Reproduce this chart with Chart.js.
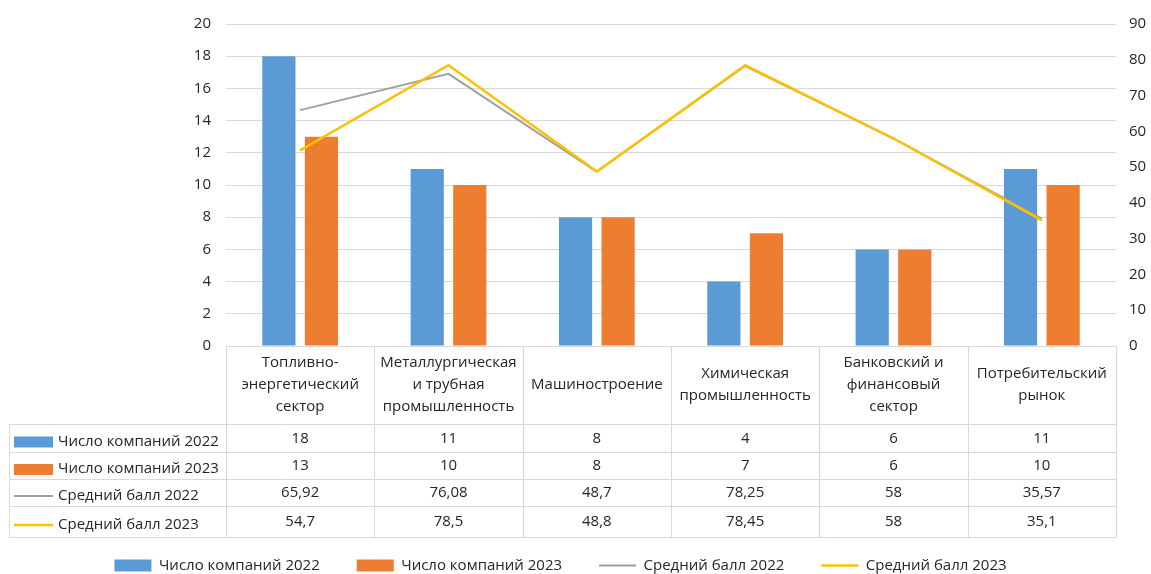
<!DOCTYPE html>
<html>
<head>
<meta charset="utf-8">
<script src="https://cdn.jsdelivr.net/npm/chart.js@4"></script>
<style>
  html, body { margin: 0; padding: 0; background: #fff; }
</style>
</head>
<body>
<canvas id="chart" width="1151" height="574"></canvas>
<script>
// Категории (подписи шапки таблицы)
const categories = [
  ["Топливно-", "энергетический", "сектор"],
  ["Металлургическая", "и трубная", "промышленность"],
  ["Машиностроение"],
  ["Химическая", "промышленность"],
  ["Банковский и", "финансовый", "сектор"],
  ["Потребительский", "рынок"],
];

// Число компаний (левая ось)
const companies2022 = [18, 11, 8, 4, 6, 11];
const companies2023 = [13, 10, 8, 7, 6, 10];

// Средний балл (правая ось)
const score2022 = [65.92, 76.08, 48.7, 78.25, 58, 35.57];
const score2023 = [54.7, 78.5, 48.8, 78.45, 58, 35.1];

const FONT = "'Open Sans', 'Noto Sans', sans-serif";
const TEXT = "#262626";
const GRID = "#d9d9d9";

// Таблица данных под графиком
const dataTable = {
  id: "dataTable",
  afterDraw(chart) {
    const ctx = chart.ctx;
    const x = chart.scales.x;
    const top = chart.chartArea.bottom;
    const half = (x.getPixelForValue(1) - x.getPixelForValue(0)) / 2;
    const left = Math.round(x.getPixelForValue(0) - half) + 0.5;
    const right = Math.round(x.getPixelForValue(categories.length - 1) + half) + 0.5;
    const rows = [78, 106, 133, 160, 191].map((r) => Math.round(top + r) + 0.5);
    const tableLeft = 9.5;
    const t = Math.round(top) + 0.5;

    ctx.save();
    ctx.strokeStyle = GRID;
    ctx.lineWidth = 1;
    ctx.beginPath();
    // верх шапки
    ctx.moveTo(left, t); ctx.lineTo(right, t);
    // горизонтальные линии строк
    rows.forEach((r) => { ctx.moveTo(tableLeft, r); ctx.lineTo(right, r); });
    // вертикальные линии
    for (let i = 0; i <= categories.length; i++) {
      const px = Math.round(x.getPixelForValue(0) - half + i * half * 2) + 0.5;
      ctx.moveTo(px, t); ctx.lineTo(px, rows[rows.length - 1]);
    }
    ctx.moveTo(tableLeft, rows[0]); ctx.lineTo(tableLeft, rows[rows.length - 1]);
    ctx.stroke();

    ctx.font = "15px " + FONT;
    ctx.fillStyle = TEXT;
    ctx.textBaseline = "middle";
    chart.data.datasets.forEach((ds, i) => {
      const cy = (rows[i] + rows[i + 1]) / 2;
      // ключ легенды
      if (ds.type === "line") {
        ctx.strokeStyle = ds.borderColor;
        ctx.lineWidth = ds.borderWidth;
        ctx.beginPath();
        ctx.moveTo(14, cy + 3); ctx.lineTo(53, cy + 3);
        ctx.stroke();
      } else {
        ctx.fillStyle = ds.backgroundColor;
        ctx.fillRect(14, cy - 2, 39, 11);
      }
      ctx.fillStyle = TEXT;
      ctx.textAlign = "left";
      ctx.fillText(ds.label, 58, cy + 3);
      ctx.textAlign = "center";
      ds.data.forEach((v, j) => {
        ctx.fillText(String(v).replace(".", ","), x.getPixelForValue(j), cy);
      });
    });
    ctx.restore();
  },
};

const chart = new Chart(document.getElementById("chart"), {
  type: "bar",
  data: {
    labels: categories,
    datasets: [
      {
        label: "Число компаний 2022",
        data: companies2022,
        backgroundColor: "#5b9bd5",
        yAxisID: "y",
        order: 3,
        categoryPercentage: 0.574,
        barPercentage: 0.78,
      },
      {
        label: "Число компаний 2023",
        data: companies2023,
        backgroundColor: "#ed7d31",
        yAxisID: "y",
        order: 3,
        categoryPercentage: 0.574,
        barPercentage: 0.78,
      },
      {
        type: "line",
        label: "Средний балл 2022",
        data: score2022,
        borderColor: "#a0a0a0",
        backgroundColor: "#a0a0a0",
        borderWidth: 2,
        pointRadius: 0,
        yAxisID: "y1",
        order: 2,
      },
      {
        type: "line",
        label: "Средний балл 2023",
        data: score2023,
        borderColor: "#ffc000",
        backgroundColor: "#ffc000",
        borderWidth: 2.5,
        pointRadius: 0,
        yAxisID: "y1",
        order: 1,
      },
    ],
  },
  options: {
    responsive: false,
    animation: false,
    // отрицательный отступ слева сдвигает легенду, как в оригинале
    layout: { padding: { top: 24, left: -30, right: 0, bottom: -9 } },
    plugins: {
      tooltip: { enabled: false },
      legend: {
        position: "bottom",
        labels: {
          color: TEXT,
          font: { family: FONT, size: 15 },
          usePointStyle: true,
          pointStyleWidth: 37,
          boxHeight: 12,
          padding: 37,
          generateLabels: (chart) =>
            chart.data.datasets.map((ds, i) => ({
              text: ds.label,
              fillStyle: ds.type === "line" ? ds.borderColor : ds.backgroundColor,
              strokeStyle: ds.type === "line" ? ds.borderColor : ds.backgroundColor,
              lineWidth: ds.type === "line" ? ds.borderWidth : 0,
              pointStyle: ds.type === "line" ? "line" : "rect",
              fontColor: TEXT,
              hidden: false,
              datasetIndex: i,
            })),
        },
      },
    },
    scales: {
      x: {
        grid: { display: false, drawTicks: false },
        border: { display: false },
        ticks: {
          color: TEXT,
          font: { family: FONT, size: 15, lineHeight: 1.47 },
          padding: 17,
          maxRotation: 0,
          autoSkip: false,
          crossAlign: "center",
        },
        afterFit: (scale) => { scale.height = 175; },
      },
      y: {
        position: "left",
        min: 0,
        max: 20,
        grid: { color: GRID, drawTicks: false },
        border: { display: false },
        ticks: { stepSize: 2, color: TEXT, padding: 15, font: { family: FONT, size: 15 } },
        afterFit: (scale) => { scale.width = 256; },
      },
      y1: {
        position: "right",
        min: 0,
        max: 90,
        grid: { drawOnChartArea: false, drawTicks: false },
        border: { display: false },
        ticks: { stepSize: 10, color: TEXT, padding: 13, font: { family: FONT, size: 15 } },
        afterFit: (scale) => { scale.width = 35; },
      },
    },
  },
  plugins: [dataTable],
});
</script>
</body>
</html>
